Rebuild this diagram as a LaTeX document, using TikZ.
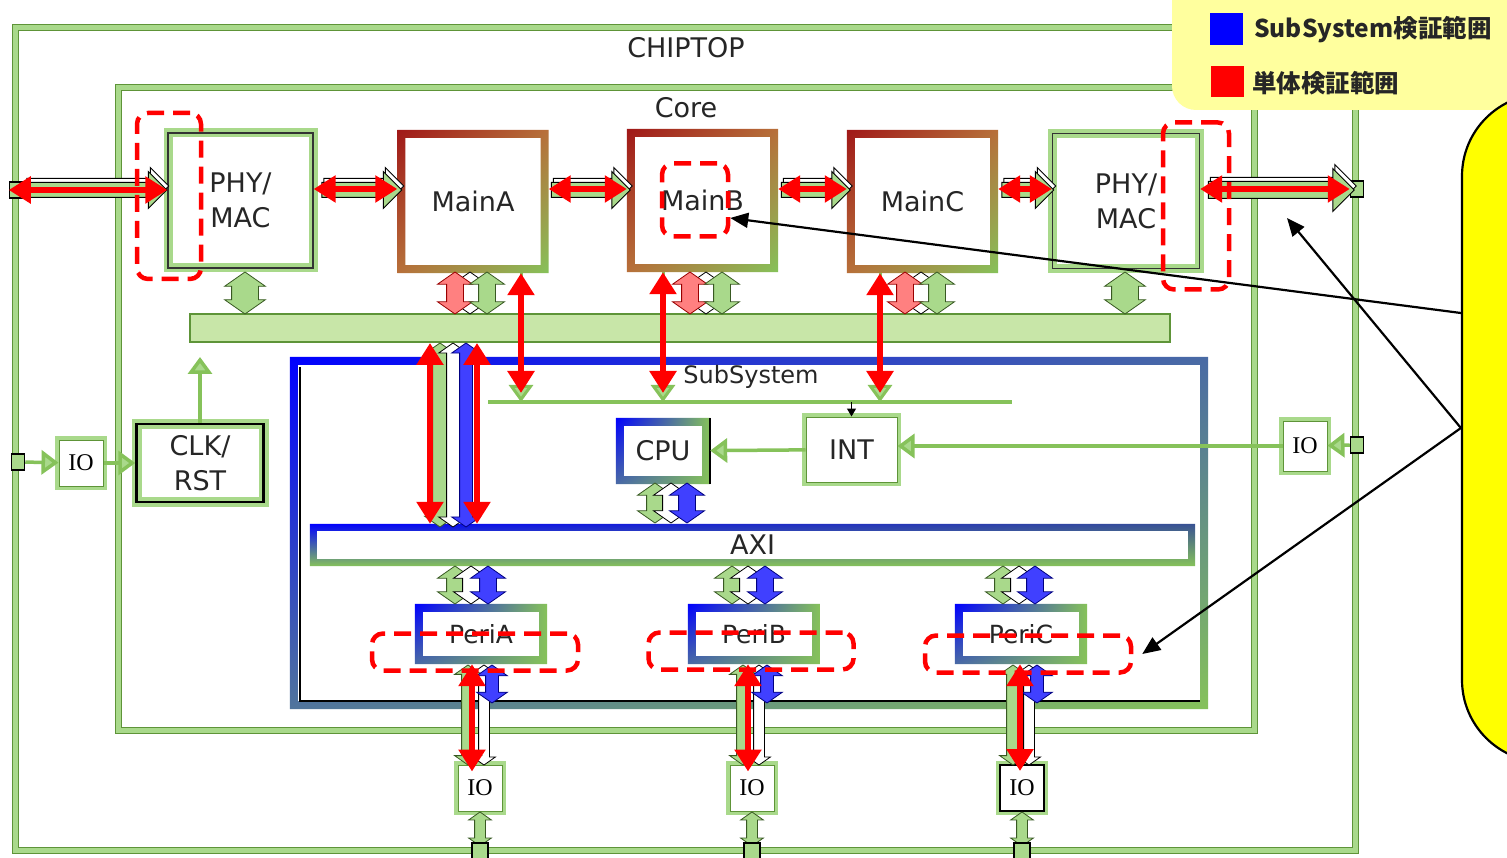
\documentclass[tikz,border=0pt]{standalone}
\usepackage{fontspec}
\setmainfont{DejaVu Sans}
\newfontfamily\iofont{Liberation Serif}
\newfontfamily\jpfont{Noto Sans CJK JP}
\usetikzlibrary{arrows.meta,shapes.arrows,shadings,calc}
\definecolor{g-band}{HTML}{A9D98B}
\definecolor{g-dark}{HTML}{5E9438}
\definecolor{g-bus}{HTML}{C8E6A8}
\definecolor{g-mid}{HTML}{86C25A}
\definecolor{r-dark}{HTML}{A01818}
\definecolor{r-brown}{HTML}{B8703A}
\definecolor{b-pure}{HTML}{0000FF}
\definecolor{leg-bg}{HTML}{FFFF9E}
\definecolor{call-bg}{HTML}{FFFF00}

\newcommand\gradframe[3]{%
  \shade[#3,even odd rule] (#1.north west) rectangle (#1.south east)
    ([shift={(#2,#2)}]#1.north west) rectangle ([shift={(-#2,-#2)}]#1.south east);}

\tikzset{
  lbl/.style={font=\fontsize{27}{35}\selectfont,align=center,text=black!85,inner sep=0pt},
  frame/.style={draw=g-dark,double=g-band,line width=1pt,double distance=5pt,inner sep=0pt},
  phybox/.style={lbl,draw=black!80,line width=1.3pt,minimum width=145,minimum height=135,preaction={draw=g-band,line width=9pt}},
  mainbox/.style={lbl,minimum width=151,minimum height=143},
  iobox/.style={draw=g-dark,line width=1pt,fill=white,minimum width=44,minimum height=46,inner sep=0pt,
    preaction={draw=g-band,line width=8pt},font=\iofont\fontsize{24}{24}\selectfont},
  port/.style={draw=black,line width=1.5pt,fill=g-band,minimum width=13,minimum height=16,inner sep=0pt},
  redgrad/.style={upper left=r-dark,upper right=r-brown,lower left=r-brown,lower right=g-mid},
  bluegrad/.style={upper left=b-pure,upper right=g-mid,lower left=b-pure!45!g-mid,lower right=g-mid},
  ssgrad/.style={upper left=b-pure,upper right=g-mid!55!b-pure,lower left=g-mid!60!b-pure,lower right=g-mid},
  axigrad/.style={upper left=b-pure,upper right=g-mid!50!b-pure!85!black,lower left=g-mid,lower right=g-mid},
  dblv/.style={double arrow,rotate=90,inner xsep=0pt,inner ysep=8pt,line width=0.8pt,double arrow head extend=9pt,double arrow tip angle=110},
  gdbl/.style={dblv,fill=g-band,draw=g-dark!60!black},
  wdbl/.style={dblv,fill=white,draw=black},
  rdbl/.style={dblv,fill=red!50,draw=red!60!black},
  bdbl/.style={dblv,fill=b-pure!75,draw=b-pure!50!black},
  hsng/.style={single arrow,inner xsep=0pt,inner ysep=7pt,line width=1pt,draw=black,fill=g-band,single arrow head extend=11pt},
  hghost/.style={hsng,fill=white},
  garr/.style={draw=g-mid,line width=3.5pt,-{Triangle[length=17pt,width=24pt,fill=g-band]}},
  redarr/.style={draw=red,line width=6pt,{Triangle[length=22pt,width=26pt]}-{Triangle[length=22pt,width=26pt]}},
  redbox/.style={draw=red,line width=4.5pt,dash pattern=on 17pt off 9pt,rounded corners=11pt,inner sep=0pt},
  calarr/.style={draw=black,line width=2.2pt,-{Triangle[length=18pt,width=15pt]}},
  legtxt/.style={font=\jpfont\bfseries\fontsize{24.5}{28}\selectfont,text=black!85,anchor=west,inner sep=0pt}
}

\begin{document}
\begin{tikzpicture}[x=1pt,y=-1pt]
\useasboundingbox (0,0) rectangle (1507,858);
\clip (0,0) rectangle (1507,858);
\fill[white] (0,0) rectangle (1507,858);
% chip and core
\node[frame,minimum width=1340,minimum height=822] (chip) at (685,439) {};
\node[frame,minimum width=1136,minimum height=642] (core) at (686,409) {};
\node[lbl] (chiplbl) at (686,48) {CHIPTOP};
\node[lbl] (corelbl) at (686,108) {Core};
\node[draw=g-dark,fill=g-bus,line width=2pt,minimum width=980,minimum height=28,inner sep=0pt] (bus) at (680,328) {};
% subsystem
\node[minimum width=918,minimum height=352,inner sep=0pt] (ss) at (749,533) {};
\gradframe{ss}{8}{ssgrad}
\draw[line width=1.5pt] ([shift={(10,10)}]ss.north west) -- ([shift={(10,-8)}]ss.south west) -- ([shift={(-8,-8)}]ss.south east);
\node[font=\fontsize{24}{28}\selectfont,text=black!85] (sslbl) at (751,377) {SubSystem};
\coordinate (ssa) at (488,402); \coordinate (ssb) at (1012,402);
\draw[draw=g-mid,line width=4pt] (ssa) -- (ssb);
% top row
\node[phybox] (phyl) at (240.5,200.5) {PHY/\\MAC};
\node[mainbox] (maina) at (473,201.5) {MainA};
\gradframe{maina}{8}{redgrad}
\node[mainbox] (mainb) at (702.5,200.5) {MainB};
\gradframe{mainb}{8}{redgrad}
\node[mainbox] (mainc) at (922.5,201.5) {MainC};
\gradframe{mainc}{8}{redgrad}
\node[phybox,minimum width=147] (phyr) at (1126,201) {PHY/\\MAC};
\node[port] (pl) at (16,190) {};
\node[port] (pr) at (1357,189) {};
% row links
\node[hghost,minimum height=142] (hg1) at (94,186) {};
\node[hsng,minimum height=142] (ha1) at (92,190) {};
\node[hghost,minimum height=80] (hg2) at (360,186) {};
\node[hsng,minimum height=80] (ha2) at (358,190) {};
\node[hghost,minimum height=79] (hg3) at (589,186) {};
\node[hsng,minimum height=79] (ha3) at (587,190) {};
\node[hghost,minimum height=69] (hg4) at (814,186) {};
\node[hsng,minimum height=69] (ha4) at (812,190) {};
\node[hghost,minimum height=52] (hg5) at (1026,186) {};
\node[hsng,minimum height=52] (ha5) at (1024,190) {};
\node[hghost,minimum height=146,inner ysep=8pt,single arrow head extend=13pt] (hg6) at (1279,186) {};
\node[hsng,minimum height=146,inner ysep=8pt,single arrow head extend=13pt] (ha6) at (1277,190) {};
% block to bus
\node[gdbl,minimum height=42,inner ysep=13pt,double arrow head extend=7pt] (va0) at (245,293) {};
\node[wdbl,minimum height=42] (vw1) at (470,293) {};
\node[rdbl,minimum height=42] (vr1) at (455,293) {};
\node[gdbl,minimum height=42] (vg1) at (487,293) {};
\node[wdbl,minimum height=42] (vw2) at (706,293) {};
\node[rdbl,minimum height=42] (vr2) at (690,293) {};
\node[gdbl,minimum height=42] (vg2) at (722,293) {};
\node[wdbl,minimum height=42] (vw3) at (921,293) {};
\node[rdbl,minimum height=42] (vr3) at (905,293) {};
\node[gdbl,minimum height=42] (vg3) at (937,293) {};
\node[gdbl,minimum height=42,inner ysep=13pt,double arrow head extend=7pt] (va4) at (1125,293) {};
% clk and io
\node[lbl,draw=black,line width=2.5pt,minimum width=127,minimum height=78,preaction={draw=g-band,line width=10pt}] (clk) at (200,463) {CLK/\\RST};
\node[iobox] (iol) at (81,463) {IO};
\node[port] (pil) at (18,462) {};
\draw[garr] (pil) -- (iol);
\draw[garr] (iol) -- (clk);
\draw[garr,shorten >=14pt] (clk.north) -- (clk.north |- bus.south);
% cpu int
\node[lbl,minimum width=94,minimum height=66] (cpu) at (663,451) {CPU};
\gradframe{cpu}{8}{bluegrad}
\draw[line width=2pt] (cpu.north east) -- (cpu.south east);
\node[iobox,font=\fontsize{27}{30}\selectfont,text=black!85,minimum width=91,minimum height=65] (int) at (851.5,449.5) {INT};
\node[iobox,minimum height=50] (ior) at (1305,446) {IO};
\node[port] (pir) at (1357,445) {};
\draw[garr] (pir) -- (ior);
\draw[garr] (ior.west) -- (ior.west -| int.east);
\draw[garr] (int) -- (cpu);
\draw[line width=1.2pt,-{Triangle[length=8pt,width=9pt]}] (int.north |- ssa) -- (int.north);
% axi
\node[lbl,minimum width=885,minimum height=42] (axi) at (752.5,545) {AXI};
\gradframe{axi}{7}{axigrad}
\node[gdbl,minimum height=184,inner ysep=7pt,double arrow head extend=8pt] (xg) at (440,435) {};
\node[wdbl,minimum height=184,inner ysep=6pt,double arrow head extend=8pt] (xw) at (453,435) {};
\node[bdbl,minimum height=184,inner ysep=6pt,double arrow head extend=8pt] (xb) at (466,435) {};
\node[gdbl,minimum height=40] (cg) at (655,503) {};
\node[wdbl,minimum height=40] (cw) at (671,503) {};
\node[bdbl,minimum height=40] (cb) at (687,503) {};
% peripherals
\node[lbl,font=\fontsize{25}{30}\selectfont,minimum width=132,minimum height=60] (peria) at (481,634) {PeriA};
\gradframe{peria}{8}{bluegrad}
\node[lbl,font=\fontsize{25}{30}\selectfont,minimum width=132,minimum height=60] (perib) at (754,634) {PeriB};
\gradframe{perib}{8}{bluegrad}
\node[lbl,font=\fontsize{25}{30}\selectfont,minimum width=132,minimum height=60] (peric) at (1021,634) {PeriC};
\gradframe{peric}{8}{bluegrad}
\node[gdbl,minimum height=38] (ag) at (455,585) {};
\node[wdbl,minimum height=38] (aw) at (471,585) {};
\node[bdbl,minimum height=38] (ab) at (488,585) {};
\node[gdbl,minimum height=38] (bg) at (732,585) {};
\node[wdbl,minimum height=38] (bw) at (748,585) {};
\node[bdbl,minimum height=38] (bb) at (765,585) {};
\node[gdbl,minimum height=38] (cg2) at (1003,585) {};
\node[wdbl,minimum height=38] (cw2) at (1019,585) {};
\node[bdbl,minimum height=38] (cb2) at (1035,585) {};
% io below
\node[iobox] (ioa) at (480,788) {IO};
\node[iobox] (iob) at (752,788) {IO};
\node[iobox,draw=black,line width=2pt] (ioc) at (1022,788) {IO};
\node[wdbl,minimum height=100,inner ysep=5pt,double arrow head extend=6pt] (pwa) at (484,715) {};
\node[gdbl,minimum height=100,inner ysep=6pt,double arrow head extend=7pt] (pga) at (468,715) {};
\node[bdbl,minimum height=38,inner ysep=6pt] (pba) at (492,684) {};
\node[wdbl,minimum height=100,inner ysep=5pt,double arrow head extend=6pt] (pwb) at (759,715) {};
\node[gdbl,minimum height=100,inner ysep=6pt,double arrow head extend=7pt] (pgb) at (743,715) {};
\node[bdbl,minimum height=38,inner ysep=6pt] (pbb) at (767,684) {};
\node[wdbl,minimum height=100,inner ysep=5pt,double arrow head extend=6pt] (pwc) at (1029,715) {};
\node[gdbl,minimum height=100,inner ysep=6pt,double arrow head extend=7pt] (pgc) at (1013,715) {};
\node[bdbl,minimum height=38,inner ysep=6pt] (pbc) at (1037,684) {};
\node[gdbl,minimum height=34,inner ysep=5pt,double arrow head extend=6pt] (oa) at (480,829) {};
\node[gdbl,minimum height=34,inner ysep=5pt,double arrow head extend=6pt] (ob) at (752,829) {};
\node[gdbl,minimum height=34,inner ysep=5pt,double arrow head extend=6pt] (oc) at (1022,829) {};
\node[port,minimum width=16] (poa) at (480,851) {};
\node[port,minimum width=16] (pob) at (752,851) {};
\node[port,minimum width=16] (poc) at (1022,851) {};
% green drops into subsystem
\coordinate (ta) at (521,402); \coordinate (tb) at (663,402); \coordinate (tc) at (880,402);
\draw[garr,line width=3pt] (maina.south -| ta) -- (ta);
\draw[garr,line width=3pt] (mainb.south -| tb) -- (tb);
\draw[garr,line width=3pt] (mainc.south -| tc) -- (tc);
% red checks
\coordinate (ry) at (0,189);
\draw[redarr] (pl.west) -- (pl.west -| phyl.west);
\draw[redarr] (phyl.east |- ry) -- (maina.west |- ry);
\draw[redarr] (maina.east |- ry) -- (mainb.west |- ry);
\draw[redarr] (mainb.east |- ry) -- (mainc.west |- ry);
\draw[redarr] (mainc.east |- ry) -- (phyr.west |- ry);
\draw[redarr] (phyr.east |- ry) -- (pr.west |- ry);
\draw[redarr,shorten >=9pt] (maina.south -| ta) -- (ta);
\draw[redarr,shorten >=9pt] (mainb.south -| tb) -- (tb);
\draw[redarr,shorten >=9pt] (mainc.south -| tc) -- (tc);
\coordinate (xa) at (430,0); \coordinate (xc) at (477,0);
\draw[redarr] (bus.south -| xa) -- (axi.north -| xa);
\draw[redarr] (bus.south -| xc) -- (axi.north -| xc);
\coordinate (qa) at (472,0); \coordinate (qb) at (748,0); \coordinate (qc) at (1020,0);
\draw[redarr,shorten >=-7pt] (peria.south -| qa) -- (ioa.north -| qa);
\draw[redarr,shorten >=-7pt] (perib.south -| qb) -- (iob.north -| qb);
\draw[redarr,shorten >=-7pt] (peric.south -| qc) -- (ioc.north -| qc);
% dashed scopes
\node[redbox,minimum width=64,minimum height=166] (dl) at (169,196) {};
\node[redbox,minimum width=66,minimum height=73] (dmb) at (695,200) {};
\node[redbox,minimum width=66,minimum height=167] (dr) at (1196,206) {};
\node[redbox,minimum width=206,minimum height=37] (dpa) at (475,652) {};
\node[redbox,minimum width=205,minimum height=37] (dpb) at (751,651) {};
\node[redbox,minimum width=206,minimum height=37] (dpc) at (1028,654) {};
% legend
\node[fill=leg-bg,rounded corners=24pt,minimum width=368,minimum height=140,inner sep=0pt] (legend) at (1356,40) {};
\node[fill=b-pure,minimum width=33,minimum height=32,inner sep=0pt] (lgb) at (1226,29) {};
\node[legtxt] (lgbt) at (1254,30) {SubSystem検証範囲};
\node[fill=red,minimum width=33,minimum height=31,inner sep=0pt] (lgr) at (1227,82) {};
\node[legtxt] (lgrt) at (1252,83) {単体検証範囲};
% callout
\node[draw=black,line width=2.2pt,fill=call-bg,rounded corners=82pt,minimum width=200,minimum height=668,inner sep=0pt] (callout) at (1562,428) {};
\coordinate (c1) at (0,313); \coordinate (cphy) at (1287,218);
\draw[calarr] (callout.west |- c1) -- ([yshift=-18pt]dmb.east);
\draw[calarr] (callout.west) -- (cphy);
\draw[calarr] (callout.west) -- ([xshift=9pt]dpc.east);
\end{tikzpicture}
\end{document}
